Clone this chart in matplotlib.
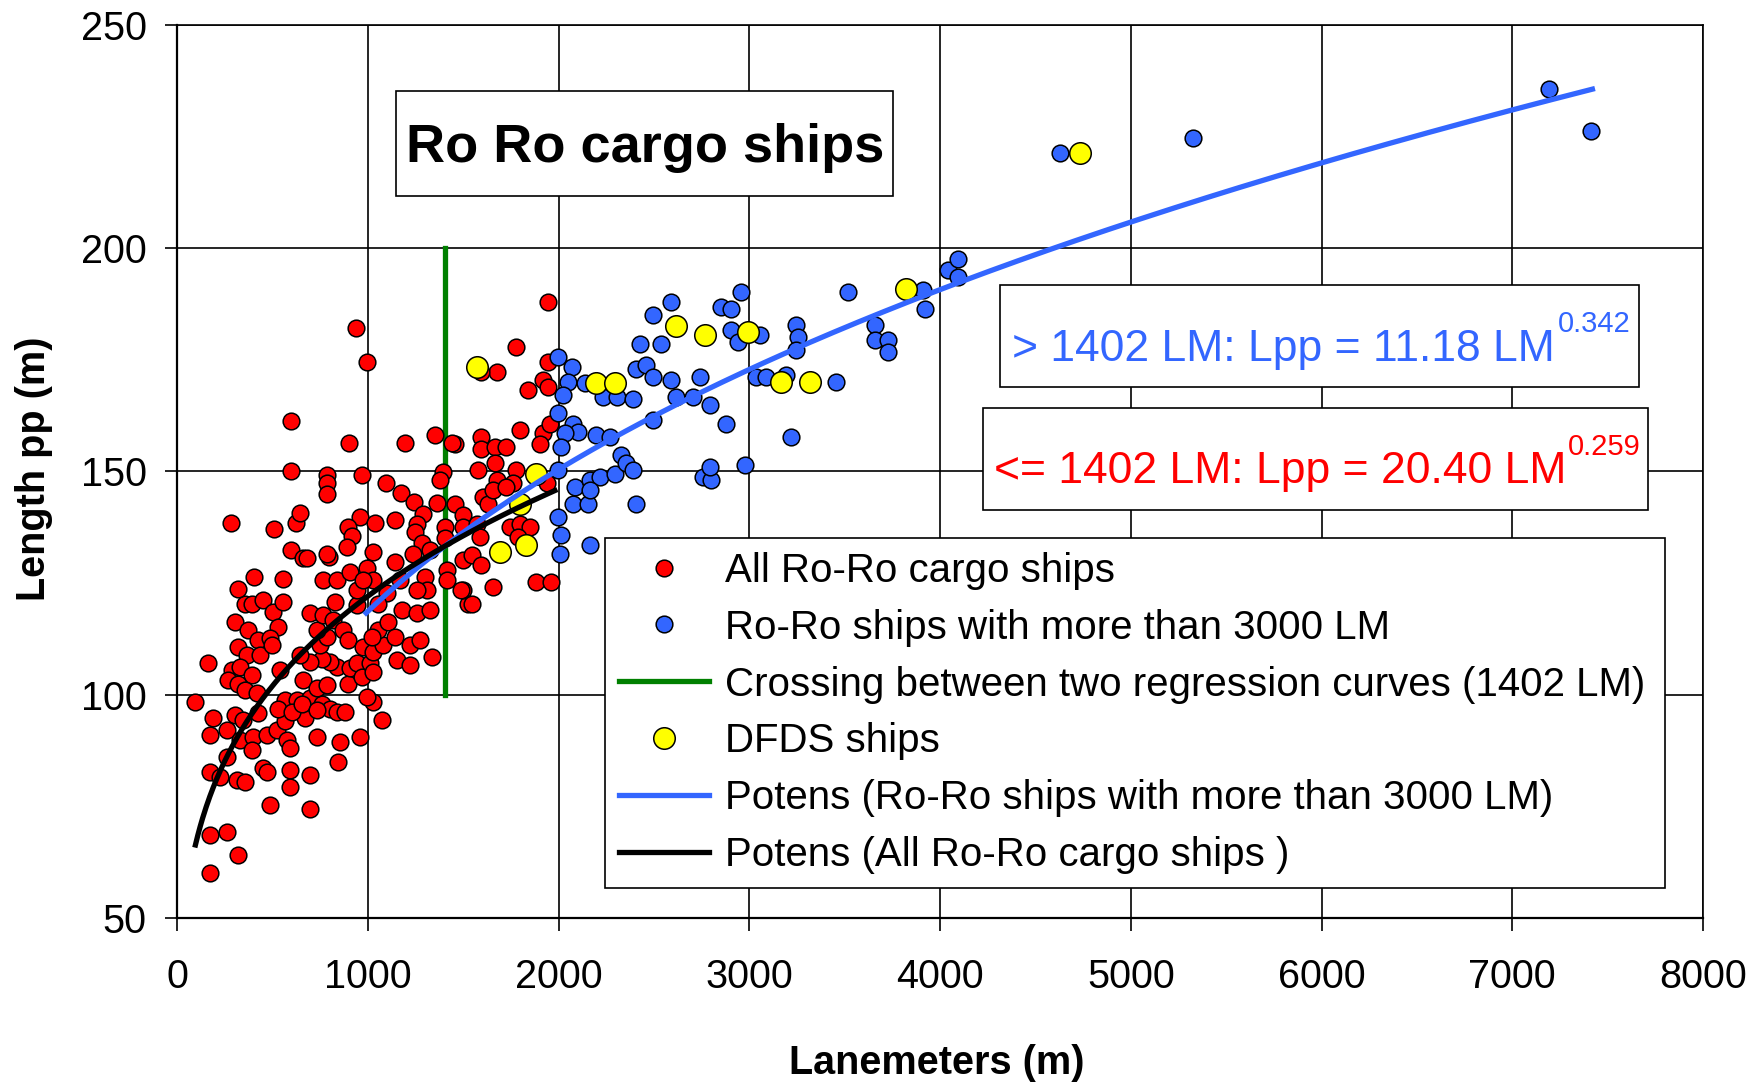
import numpy as np
import matplotlib
matplotlib.use("Agg")
import matplotlib.pyplot as plt
from matplotlib.patches import Rectangle

plt.rcParams['font.family'] = ['Liberation Sans', 'DejaVu Sans']

# --- ship data: lanemeters (m) vs length pp (m) ---
red_x = [355, 390, 451, 504, 556, 303, 373, 530, 425, 486, 320, 364, 434, 495,
         163, 285, 329, 390, 538, 268, 320, 355, 416, 93, 189, 303, 346, 425,
         172, 259, 329, 399, 469, 521, 259, 390, 172, 224, 311, 355, 451, 486,
         695, 172, 259, 320, 172, 591, 591, 695, 469, 565, 573, 591, 669, 731,
         853, 844, 958, 1071, 1028, 565, 626, 696, 757, 800, 835, 879, 530, 600,
         652, 731, 993, 661, 731, 783, 897, 836, 905, 940, 966, 1010, 1028, 800,
         757, 696, 643, 748, 783, 731, 696, 766, 818, 870, 897, 827, 940, 975,
         1028, 1080, 1054, 1019, 1106, 1141, 1176, 1255, 1220, 1272, 1150, 1220,
         1334, 1325, 1098, 1054, 1526,
         996, 594, 900, 1194, 1351, 1456, 1438, 594, 783, 783, 783, 967, 1094,
         1173, 1243, 1290, 1255, 1246, 1395, 1377, 1360, 1456, 1499, 1499, 1403,
         1403, 282, 507, 622, 643, 958, 1036, 1141, 897, 918, 888, 1024, 1281,
         1237, 596, 661, 682, 797, 783, 1141, 404, 320, 553, 766, 836, 905, 993,
         1028, 1168, 1298, 1412, 1499, 1499, 1307, 1255, 940, 975, 936, 1324, 1412,
         1944, 1778, 1944, 1674, 1595, 1840, 1915, 1944, 1595, 1595, 1665, 1723,
         1796, 1578, 1665, 1674, 1778, 1761, 1604, 1630, 1656, 1726, 1936, 1569,
         1586, 1743, 1796, 1848, 1787, 1543, 1595, 1656, 1883, 1962, 1918, 1953,
         1901, 1543, 1490]
red_y = [120.4, 120.4, 121.2, 118.6, 120.8, 116.3, 114.5, 115.2, 112.2, 112.6,
         110.7, 108.9, 108.9, 111.1, 107.0, 105.5, 106.3, 104.4, 105.5, 103.3,
         102.5, 101.0, 100.3, 98.4, 94.7, 95.4, 94.3, 95.8, 91.0, 92.1, 89.8,
         90.6, 91.0, 92.1, 86.1, 87.6, 82.7, 81.6, 80.9, 80.5, 83.5, 75.3, 74.5,
         68.6, 69.3, 64.1, 60.0, 83.1, 79.4, 82.0, 82.8, 94.0, 89.8, 88.0, 94.7,
         90.6, 89.5, 85.0, 90.6, 94.3, 98.4, 98.8, 98.8, 99.2, 98.0, 96.9, 96.2,
         96.2, 96.9, 96.2, 98.0, 96.6, 99.5, 103.3, 101.4, 102.2, 102.5, 106.3,
         105.9, 107.0, 104.0, 107.0, 105.1, 107.4, 108.1, 107.4, 108.9, 111.1,
         113.0, 114.5, 118.2, 117.8, 116.7, 114.5, 112.2, 120.8, 120.1, 110.7,
         109.6, 111.1, 114.5, 113.0, 116.3, 113.0, 118.9, 118.2, 111.1, 112.2,
         107.7, 106.6, 108.5, 118.9, 122.7, 120.4, 120.4,
         174.5, 161.3, 156.4, 156.4, 158.1, 156.2, 156.4, 150.1, 149.2, 147.3,
         145.0, 149.2, 147.4, 145.2, 143.2, 140.5, 138.3, 136.5, 149.9, 148.0,
         143.0, 142.8, 140.2, 137.6, 137.6, 135.0, 138.5, 137.2, 138.5, 140.7,
         139.8, 138.5, 139.1, 137.6, 135.5, 133.1, 132.0, 133.9, 131.6, 132.4,
         130.5, 130.5, 130.9, 131.5, 129.8, 126.4, 123.6, 125.8, 125.7, 125.7,
         127.5, 128.3, 125.7, 125.7, 126.4, 127.9, 130.1, 123.4, 123.4, 123.4,
         123.4, 125.7, 182.0, 132.4, 125.6,
         187.9, 177.9, 174.5, 172.3, 172.3, 168.3, 170.4, 168.9, 157.7, 155.1,
         155.5, 155.5, 159.2, 150.3, 151.8, 148.0, 150.3, 147.3, 144.3, 142.8,
         145.8, 146.5, 147.3, 138.3, 135.3, 137.6, 138.3, 137.6, 135.3, 131.2,
         129.0, 124.2, 125.3, 125.3, 158.5, 160.7, 156.2, 120.4, 123.4]

blue_x = [1997, 2067, 2049, 2023, 1997, 2075, 2102, 2032, 2014, 2198, 2268, 2137,
          2233, 2303, 2390, 2425, 2538, 2495, 2591, 2407, 2460, 2495, 2591, 2617,
          2704, 2740, 2495, 1997, 2084, 2075, 2154, 2163, 2215, 2294, 2329, 2355,
          2390, 2163, 2407, 1997, 2014, 2005, 2163, 2757, 2800, 2792, 2975, 3220,
          2879, 2792, 2853, 2905, 2958, 2905, 2940, 3053, 3036, 3089, 3193, 3246,
          3255, 3246, 3455, 3517, 3656, 3656, 3726, 3726, 3910, 3918, 4041, 4093,
          4093, 4628, 5325, 7190, 7412]
blue_y = [175.6, 173.4, 170.0, 167.0, 163.0, 160.7, 158.8, 158.5, 155.5, 158.1,
          157.7, 169.7, 166.7, 166.7, 166.3, 178.6, 178.6, 185.0, 187.9, 173.0,
          173.8, 171.2, 170.4, 166.7, 166.7, 171.2, 161.5, 150.3, 146.5, 142.8,
          142.8, 148.0, 148.8, 149.5, 153.6, 151.8, 150.3, 145.8, 142.8, 139.8,
          135.7, 131.6, 133.5, 148.8, 148.0, 151.0, 151.4, 157.7, 160.7, 164.8,
          186.8, 186.4, 190.2, 181.6, 179.0, 180.5, 171.2, 171.2, 171.5, 182.7,
          180.1, 177.1, 170.0, 190.2, 182.7, 179.4, 179.4, 176.7, 190.6, 186.4,
          195.0, 197.6, 193.5, 221.3, 224.7, 235.7, 226.1]

dfds_x = [1569, 2613, 2198, 2294, 1883, 1796, 1691, 1831, 2765, 2992, 3167, 3316,
          3822, 4733]
dfds_y = [173.4, 182.5, 169.7, 169.7, 149.5, 142.8, 132.0, 133.5, 180.5, 181.2,
          170.0, 170.0, 190.9, 221.3]

# power regressions as printed in the equation boxes
fit_big = (11.18, 0.342)     # > 1402 LM
fit_all = (20.40, 0.259)     # <= 1402 LM
big_range = (990, 7420)
all_range = (95, 1980)
crossing = 1402

BLUE = '#3366FF'
FS = 28.5

fig = plt.figure(figsize=(17.6, 10.89), dpi=100)
ax = fig.add_axes([0.10074, 0.15702, 0.86688, 0.82029])

ax.set_xlim(0, 8000)
ax.set_ylim(50, 250)
ax.set_xticks(np.arange(0, 8001, 1000))
ax.set_yticks(np.arange(50, 251, 50))
ax.grid(True, color='black', linewidth=1.2)
ax.set_axisbelow(True)
for s in ax.spines.values():
    s.set_linewidth(1.2)
ax.spines['left'].set_linewidth(1.6)
ax.spines['bottom'].set_linewidth(1.6)
ax.tick_params(axis='both', direction='out', length=9, width=1.2, labelsize=FS)
ax.tick_params(axis='x', pad=20)
ax.tick_params(axis='y', pad=13)

mk = dict(linestyle='none', marker='o', markeredgecolor='black', markeredgewidth=1.1)
ln_green, = ax.plot([crossing, crossing], [100, 200], color='#008000', lw=3.8, zorder=2,
                    label='Crossing between two regression curves (1402 LM)')
p_red, = ax.plot(red_x, red_y, markerfacecolor='red', markersize=12, zorder=3,
                 label='All Ro-Ro cargo ships', **mk)
p_blue, = ax.plot(blue_x, blue_y, markerfacecolor=BLUE, markersize=12, zorder=4,
                  label='Ro-Ro ships with more than 3000 LM', **mk)
p_dfds, = ax.plot(dfds_x, dfds_y, markerfacecolor='yellow', markersize=15.5, zorder=5,
                  label='DFDS ships', **mk)

xb = np.linspace(*big_range, 300)
ln_blue, = ax.plot(xb, fit_big[0] * xb ** fit_big[1], color=BLUE, lw=3.8, zorder=6,
                   label='Potens (Ro-Ro ships with more than 3000 LM)')
xa = np.linspace(*all_range, 300)
ln_black, = ax.plot(xa, fit_all[0] * xa ** fit_all[1], color='black', lw=3.8, zorder=7,
                    label='Potens (All Ro-Ro cargo ships )')

# title box
ax.add_patch(Rectangle((1146, 211.6), 3751 - 1146, 235.2 - 211.6, facecolor='white',
                       edgecolor='black', lw=1.2, zorder=8))
ax.text(2454, 219.3, 'Ro Ro cargo ships', fontsize=39, fontweight='bold',
        ha='center', va='baseline', zorder=9)

# equation boxes
ax.add_patch(Rectangle((4314, 168.9), 7664 - 4314, 191.7 - 168.9, facecolor='white',
                       edgecolor='black', lw=1.2, zorder=8))
ax.text(4377, 174.7, '> 1402 LM: Lpp = 11.18 LM', color=BLUE, fontsize=32,
        va='baseline', zorder=9)
ax.text(7238, 181.2, '0.342', color=BLUE, fontsize=21, va='baseline', zorder=9)

ax.add_patch(Rectangle((4225, 141.3), 7711 - 4225, 164.1 - 141.3, facecolor='white',
                       edgecolor='black', lw=1.2, zorder=8))
ax.text(4283, 147.3, '<= 1402 LM: Lpp = 20.40 LM', color='red', fontsize=32,
        va='baseline', zorder=9)
ax.text(7290, 153.6, '0.259', color='red', fontsize=21, va='baseline', zorder=9)

ax.set_xlabel('Lanemeters (m)', fontsize=FS, fontweight='bold', va='center')
ax.set_ylabel('Length pp (m)', fontsize=FS, fontweight='bold', va='center')
ax.xaxis.set_label_coords(0.498, -0.1623)
ax.yaxis.set_label_coords(-0.0941, 0.5026)

handles = [p_red, p_blue, ln_green, p_dfds, ln_blue, ln_black]
leg = ax.legend(handles=handles, loc='upper left', mode='expand',
                bbox_to_anchor=(0.344, 0.0, 0.602, 0.506), bbox_transform=fig.transFigure,
                borderaxespad=0, prop={'size': 29}, frameon=True, fancybox=False,
                framealpha=1, edgecolor='black', borderpad=0.34, labelspacing=0.47,
                handlelength=2.24, handletextpad=0.38, numpoints=1)
leg.get_frame().set_linewidth(1.2)
leg.set_zorder(10)

fig.savefig('out.png', dpi=100)
